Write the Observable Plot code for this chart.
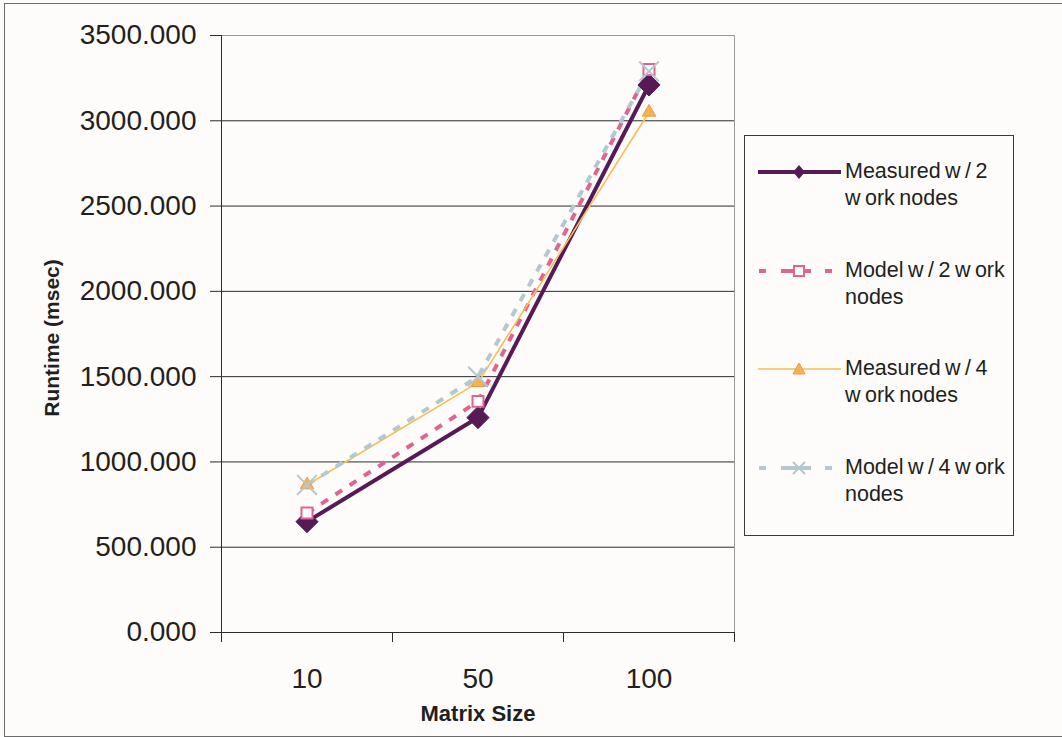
<!DOCTYPE html>
<html>
<head>
<meta charset="utf-8">
<script src="https://cdn.jsdelivr.net/npm/d3@7"></script>
<script src="https://cdn.jsdelivr.net/npm/@observablehq/plot@0.6"></script>
<style>
  html, body { margin: 0; padding: 0; background: #fdfcfb; overflow: hidden; }
  #wrap { position: relative; width: 1062px; height: 737px; overflow: hidden; font-family: "Liberation Sans", Arial, sans-serif; color: #231f20; }
  #frame { position: absolute; left: 4px; top: 3px; width: 1070px; height: 734px; border: 1px solid #6b6b6b; box-sizing: border-box; pointer-events: none; }
  #chart { position: absolute; left: 0; top: 0; }
  #legend { position: absolute; left: 744px; top: 135px; width: 270px; height: 401px; border: 1px solid #3a3a3a; box-sizing: border-box; }
  .item { position: absolute; left: 12px; width: 256px; height: 60px; }
  .item svg { position: absolute; left: 0; top: 0; }
  .item .lbl { position: absolute; left: 88px; top: -1px; font-size: 21.5px; line-height: 27px; word-spacing: -1.5px; white-space: pre; color: #231f20; }
</style>
</head>
<body>
<div id="wrap">
  <div id="chart"></div>
  <div id="legend"></div>
  <div id="frame"></div>
</div>
<script>
// ---- data ----
const sizes = ["10", "50", "100"];
const measured2 = [650, 1260, 3210];
const model2 = [700, 1355, 3300];
const measured4 = [865, 1465, 3050];
const model4 = [865, 1500, 3290];
const yTicks = [0, 500, 1000, 1500, 2000, 2500, 3000, 3500];
const seriesNames = ["Measured w / 2\nw ork nodes", "Model w / 2 w ork\nnodes", "Measured w / 4\nw ork nodes", "Model w / 4 w ork\nnodes"];
const xTitle = "Matrix Size";
const yTitle = "Runtime (msec)";

// ---- styles ----
const styles = [
  {stroke: "#561b57", strokeWidth: 4, dash: null, symbol: "diamond2", r: 10, fill: "#561b57", mstroke: "#561b57", msw: 1},
  {stroke: "#e0648f", strokeWidth: 4, dash: "8,9", symbol: "square2", r: 7, fill: "#ffffff", mstroke: "#e0648f", msw: 2},
  {stroke: "#f7be55", strokeWidth: 1.6, dash: null, symbol: "triangle", r: 5, fill: "#f6b252", mstroke: "#e99b3d", msw: 1},
  {stroke: "#b4c8cf", strokeWidth: 4, dash: "8,9", symbol: "times", r: 9, fill: "none", mstroke: "#b4c8cf", msw: 2}
];
const seriesVals = [measured2, model2, measured4, model4];
const rows = seriesVals.map(vals => sizes.map((s, i) => ({pos: i + 0.5, size: s, value: vals[i]})));

const lineMarks = rows.map((d, k) => Plot.line(d, {
  x: "pos", y: "value", stroke: styles[k].stroke, strokeWidth: styles[k].strokeWidth,
  strokeDasharray: styles[k].dash, strokeLinecap: "butt"
}));
const dotMarks = rows.map((d, k) => Plot.dot(d, {
  x: "pos", y: "value", symbol: () => styles[k].symbol, r: styles[k].r,
  fill: styles[k].fill, stroke: styles[k].mstroke, strokeWidth: styles[k].msw
}));

const chart = Plot.plot({
  width: 1062,
  height: 737,
  marginLeft: 221,
  marginRight: 328,
  marginTop: 35,
  marginBottom: 105,
  style: {background: "transparent", fontFamily: "Liberation Sans, Arial, sans-serif", color: "#231f20", overflow: "visible"},
  x: {domain: [0, 3]},
  y: {domain: [0, 3500]},
  symbol: {type: "identity"},
  marks: [
    Plot.ruleY(yTicks.filter(v => v > 0 && v < 3500), {stroke: "#2b2b2b", strokeWidth: 1}),
    Plot.ruleY([3500], {stroke: "#9a9a9a", strokeWidth: 1}),
    Plot.ruleX([3], {stroke: "#9a9a9a", strokeWidth: 1}),
    Plot.ruleX([0], {stroke: "#2b2b2b", strokeWidth: 1}),
    Plot.ruleY([0], {stroke: "#2b2b2b", strokeWidth: 1}),
    Plot.axisY({ticks: yTicks, tickFormat: d3.format(".3f"), tickSize: 11, tickPadding: 14, fontSize: 28, label: null, stroke: "#2b2b2b"}),
    Plot.axisX({ticks: [0, 1, 2, 3], tickFormat: () => "", tickSize: 10, label: null, stroke: "#2b2b2b"}),
    Plot.axisX({ticks: [0.5, 1.5, 2.5], tickFormat: d => sizes[Math.floor(d)], tickSize: 0, tickPadding: 36, fontSize: 28, label: null}),
    ...lineMarks,
    ...dotMarks,
    Plot.text([xTitle], {frameAnchor: "bottom", dy: 81, textAnchor: "middle", lineAnchor: "middle", fontSize: 22, fontWeight: "bold", fill: "#231f20"}),
    Plot.text([yTitle], {frameAnchor: "left", dx: -169, dy: 4, rotate: -90, textAnchor: "middle", lineAnchor: "middle", fontSize: 21, fontWeight: "bold", fill: "#231f20"})
  ]
});
document.getElementById("chart").appendChild(chart);

// ---- legend ----
const legend = document.getElementById("legend");
const itemTops = [23, 122, 220, 319];
styles.forEach((s, k) => {
  const item = document.createElement("div");
  item.className = "item";
  item.style.top = itemTops[k] + "px";
  const cy = 13;
  let marker = "";
  if (s.symbol === "diamond2") marker = `<path d="M42,${cy-7}L48,${cy}L42,${cy+7}L36,${cy}Z" fill="${s.fill}"/>`;
  if (s.symbol === "square2") marker = `<rect x="37" y="${cy-5}" width="10" height="10" fill="#fff" stroke="${s.mstroke}" stroke-width="2"/>`;
  if (s.symbol === "triangle") marker = `<path d="M42,${cy-6}L48,${cy+5}L36,${cy+5}Z" fill="${s.fill}" stroke="${s.mstroke}"/>`;
  if (s.symbol === "times") marker = `<path d="M36,${cy-6}L48,${cy+6}M48,${cy-6}L36,${cy+6}" stroke="${s.mstroke}" stroke-width="2"/>`;
  const dash = s.dash ? `stroke-dasharray="7,15" stroke-dashoffset="-1"` : "";
  item.innerHTML = `<svg width="86" height="26"><line x1="1" y1="${cy}" x2="84" y2="${cy}" stroke="${s.stroke}" stroke-width="${s.strokeWidth}" ${dash}/>${s.dash ? `<line x1="30" y1="${cy}" x2="54" y2="${cy}" stroke="${s.stroke}" stroke-width="${s.strokeWidth}"/>` : ""}${marker}</svg><div class="lbl">${seriesNames[k]}</div>`;
  legend.appendChild(item);
});
</script>
</body>
</html>
